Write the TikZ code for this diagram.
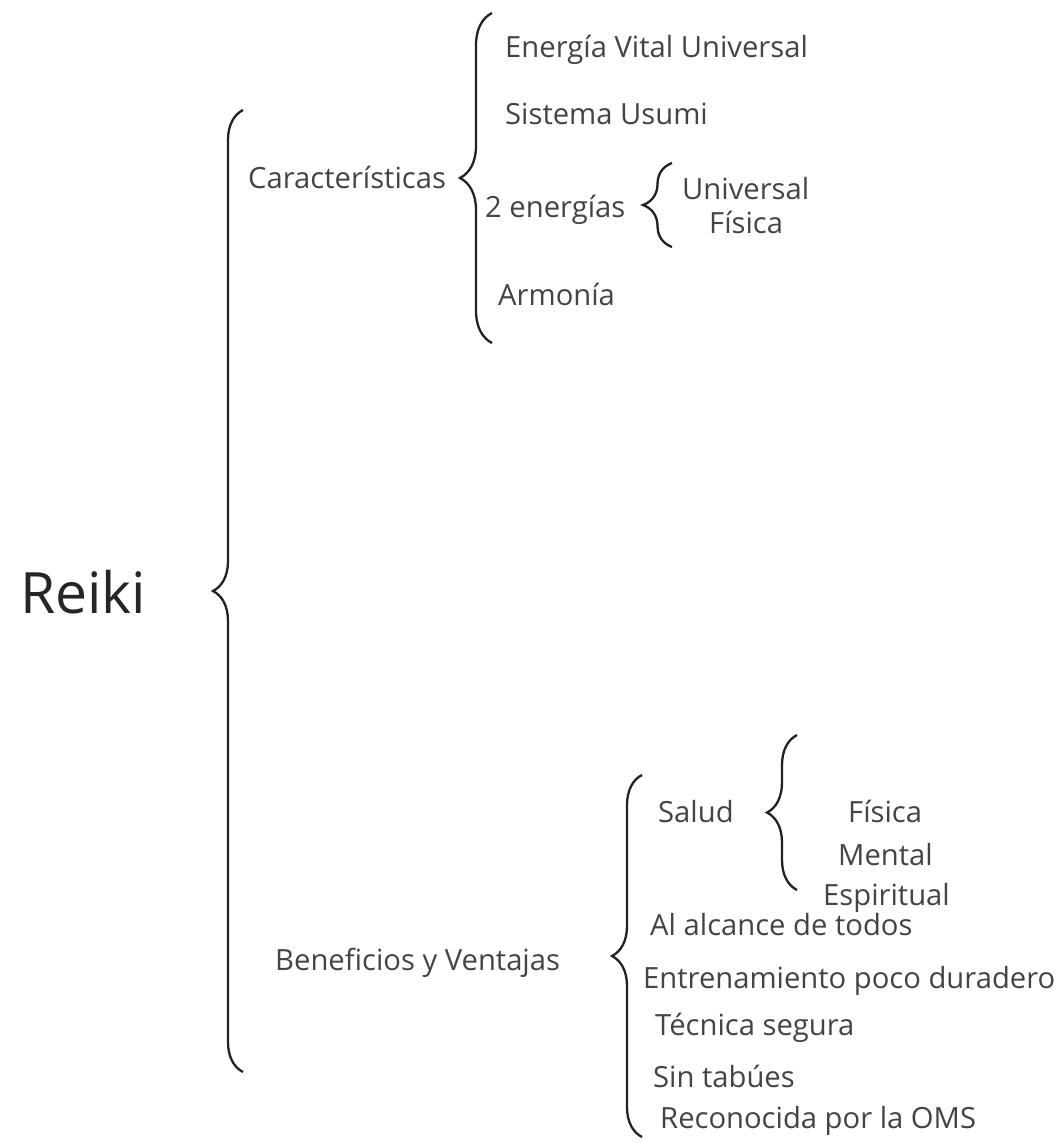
\documentclass[tikz,border=0pt]{standalone}
\usepackage{fontspec}
\setmainfont{Open Sans}
\usepackage{tikz}
\usetikzlibrary{decorations.pathreplacing}

\definecolor{txtgray}{HTML}{444444}
\definecolor{bracegray}{HTML}{222222}

\begin{document}
\begin{tikzpicture}[x=1pt,y=-1pt]
    \tikzstyle{item}=[anchor=base west,inner sep=0pt,text=txtgray,font=\fontsize{29.2}{34}\selectfont]
    \tikzstyle{title}=[item,font=\fontsize{57}{64}\selectfont,text=black!85]
    \tikzstyle{curly}=[draw=bracegray,line width=2.3pt,decorate,decoration={brace,amplitude=30pt}]
    \useasboundingbox[fill=white] (0,0) rectangle (1064,1142);

    % root
    \node[title] (reiki) at (20,613) {Reiki};
    \coordinate (mainBot) at (243,1072);
    \coordinate (mainTop) at (243,110);
    \draw[curly] (mainBot) -- (mainTop);

    % caracteristicas
    \node[item] (carac) at (248,189) {Características};
    \coordinate (caracBot) at (492,343);
    \coordinate (caracTop) at (492,13);
    \draw[curly,decoration={amplitude=32pt}] (caracBot) -- (caracTop);
    \node[item] (vital) at (505,58) {Energía Vital Universal};
    \node[item] (usumi) at (505,125) {Sistema Usumi};
    \node[item] (energias) at (485,217) {2 energías};
    \node[item] (armonia) at (498,305) {Armonía};
    \coordinate (enerBot) at (672,247);
    \coordinate (enerTop) at (672,163);
    \draw[curly,decoration={amplitude=29pt}] (enerBot) -- (enerTop);
    \node[item] (univ) at (682,200) {Universal};
    \node[item] (fisicaA) at (709,233) {Física};

    % beneficios
    \node[item] (benef) at (275,970) {Beneficios y Ventajas};
    \coordinate (benefBot) at (642,1137);
    \coordinate (benefTop) at (642,775);
    \draw[curly] (benefBot) -- (benefTop);
    \node[item] (salud) at (658,822) {Salud};
    \coordinate (saludBot) at (797,890);
    \coordinate (saludTop) at (797,735);
    \draw[curly] (saludBot) -- (saludTop);
    \node[item] (fisicaB) at (848,822) {Física};
    \node[item] (mental) at (838,865) {Mental};
    \node[item] (espir) at (823,905) {Espiritual};
    \node[item] (alcance) at (650,935) {Al alcance de todos};
    \node[item] (entren) at (643,988) {Entrenamiento poco duradero};
    \node[item] (tecnica) at (655,1035) {Técnica segura};
    \node[item] (tabues) at (653,1087) {Sin tabúes};
    \node[item] (oms) at (660,1128) {Reconocida por la OMS};
\end{tikzpicture}
\end{document}
